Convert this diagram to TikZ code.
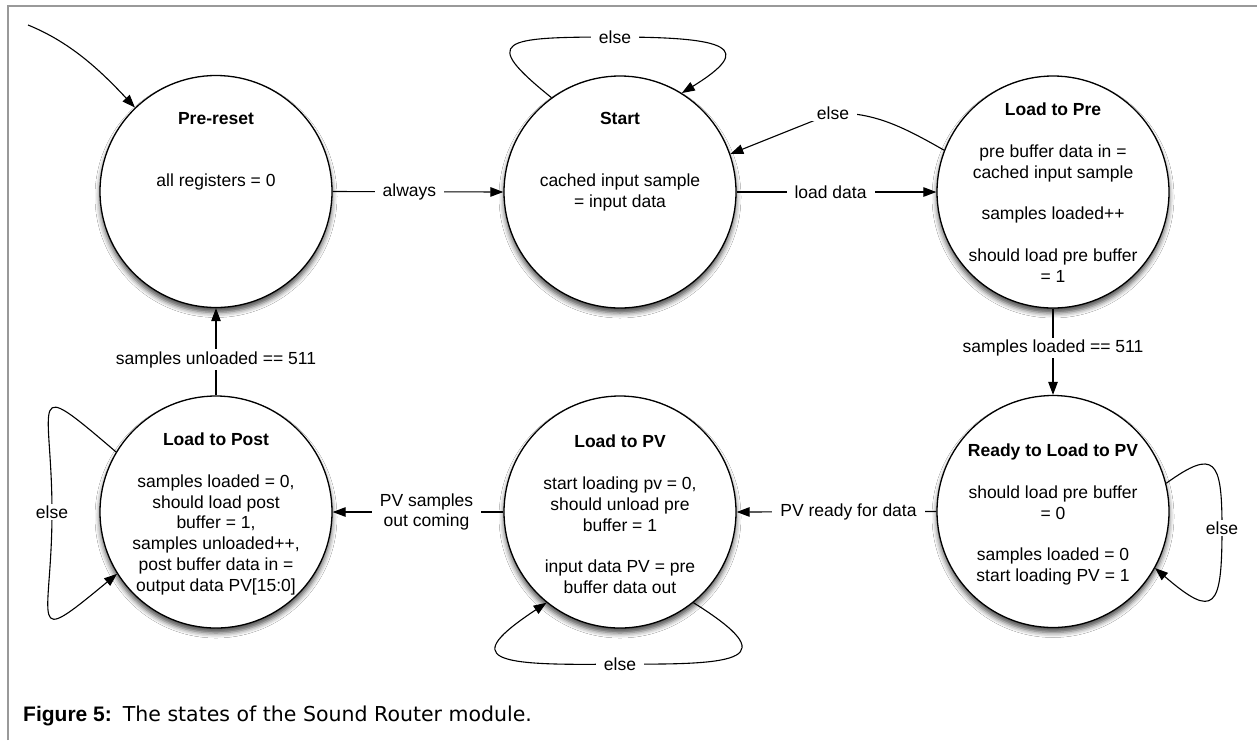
\documentclass[tikz,border=0pt]{standalone}
\usepackage{fontspec}
\setmainfont{Liberation Sans}
\newfontfamily\captionfont{DejaVu Sans}
\usetikzlibrary{arrows.meta,shadows.blur,calc}
\begin{document}
\begin{tikzpicture}[x=1pt,y=-1pt,
  state/.style={circle,draw=black,line width=1.3pt,fill=white,minimum size=232pt,inner sep=0pt,
    blur shadow={shadow xshift=0pt,shadow yshift=-5pt,shadow blur radius=5pt,shadow opacity=70}},
  statetext/.style={align=center,font=\fontsize{17.5}{20.8}\selectfont,inner sep=0pt},
  conn/.style={line width=1.1pt,-{Triangle[length=13pt,width=9.5pt]}},
  lbl/.style={fill=white,inner xsep=8pt,inner ysep=2pt,align=center,font=\fontsize{17.5}{20.8}\selectfont},
]
\useasboundingbox (0,0) rectangle (1257,740);
\fill[white] (0,0) rectangle (1257,740);
% page frame
\draw[line width=2pt,color=black!40] (8,740) -- (8,6) -- (1257,6);

% states
\node[state] (s1) at (216,191.5) {};
\node[state] (s2) at (620,192) {};
\node[state] (s3) at (1053,192) {};
\node[state] (s4) at (1053,511.5) {};
\node[state] (s5) at (620,512) {};
\node[state] (s6) at (216,512) {};

% state contents
\node[statetext] (t1) at ($(s1)+(0,-40)$) {\textbf{Pre-reset}\\[41.6pt]all registers = 0};
\node[statetext] (t2) at ($(s2)+(0,-30.5)$) {\textbf{Start}\\[41.6pt]cached input sample\\= input data};
\node[statetext] (t3) at ($(s3)+(0,0.5)$) {\textbf{Load to Pre}\\[20.8pt]pre buffer data in =\\cached input sample\\[20.8pt]samples loaded++\\[20.8pt]should load pre buffer\\= 1};
\node[statetext] (t4) at ($(s4)+(0,3)$) {\textbf{Ready to Load to PV}\\[20.8pt]should load pre buffer\\= 0\\[20.8pt]samples loaded = 0\\start loading PV = 1};
\node[statetext] (t5) at ($(s5)+(0,2.5)$) {\textbf{Load to PV}\\[20.8pt]start loading pv = 0,\\should unload pre\\buffer = 1\\[20.8pt]input data PV = pre\\buffer data out};
\node[statetext] (t6) at ($(s6)+(0,2)$) {\textbf{Load to Post}\\[20.8pt]samples loaded = 0,\\should load post\\buffer = 1,\\samples unloaded++,\\post buffer data in =\\output data PV[15:0]};

% initial transition
\coordinate (init) at (28,25);
\draw[conn] (init) .. controls (70,42) and (100,70) .. (s1.134);

% transitions between states
\draw[conn] (s1.east) -- node[lbl,pos=0.45]{always} (s2.west);
\draw[conn] (s2.east) -- node[lbl,pos=0.47]{load data} (s3.west);
\draw[conn] (s3.159) .. controls (905,128) and (875,112) .. (833,113) node[lbl]{else} -- (s2.19);
\draw[conn] (s3.south) -- node[lbl,pos=0.46]{samples loaded == 511} (s4.north);
\draw[conn] (s4.west) -- node[lbl,pos=0.44]{PV ready for data} (s5.east);
\draw[conn] (s5.west) -- node[lbl,pos=0.45]{PV samples\\out coming} (s6.east);
\draw[conn] (s6.north) -- node[lbl,pos=0.41]{samples unloaded == 511} (s1.south);

% self loops
\draw[conn] (s2.126) .. controls (480,40) and (500,37) .. (615,37) node[lbl]{else}
  .. controls (730,37) and (755,48) .. (s2.58);
\draw[conn] (s4.14) .. controls (1215,448) and (1222,460) .. (1222,528) node[lbl]{else}
  .. controls (1222,608) and (1215,620) .. (s4.-29);
\draw[conn] (s5.-51) .. controls (785,660) and (740,665) .. (620,664) node[lbl]{else}
  .. controls (490,666) and (460,660) .. (s5.-129);
\draw[conn] (s6.149) .. controls (25,374) and (52,400) .. (52,512) node[lbl]{else}
  .. controls (52,624) and (25,650) .. (s6.-148);

% caption
\node[anchor=base west,inner sep=0pt,font=\fontsize{21}{25}\selectfont] (cap) at (23,721)
  {\textbf{Figure 5:}\hspace{11pt}{\captionfont\fontsize{20.5}{25}\selectfont The states of the Sound Router module.}};
\end{tikzpicture}
\end{document}
